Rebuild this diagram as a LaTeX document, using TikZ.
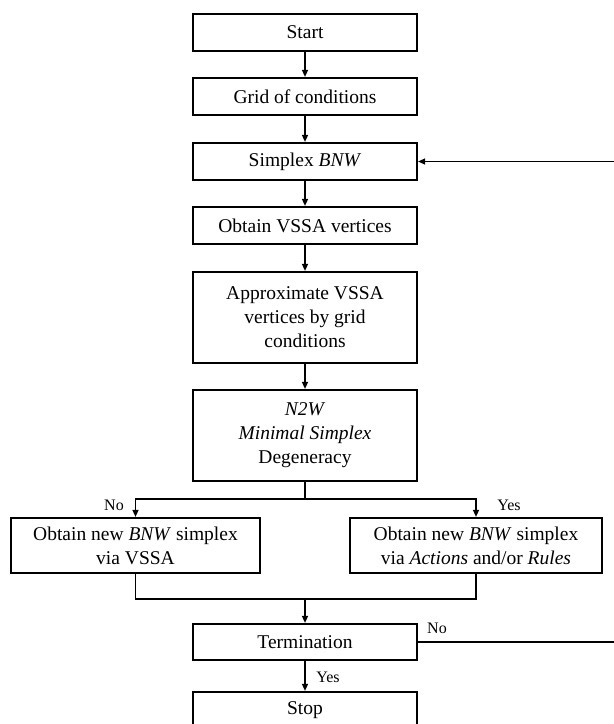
\documentclass[tikz,border=0pt]{standalone}
\usepackage{fontspec}
\setmainfont{Liberation Serif}
\usetikzlibrary{arrows.meta}
\begin{document}
\begin{tikzpicture}[x=1pt,y=-1pt,
  box/.style={draw,line width=2.2pt,inner sep=0pt,align=center,minimum width=224pt,minimum height=37pt,font=\fontsize{19.5}{24}\selectfont},
  conn/.style={line width=1.4pt},
  arr/.style={conn,-{Triangle[length=7pt,width=6pt]}},
  lab/.style={font=\fontsize{16}{19}\selectfont,inner sep=0pt}]
\path[use as bounding box,clip] (0,0) rectangle (614,724);
\node[box] (start) at (305,32.5) {Start};
\node[box] (grid) at (305,96.5) {Grid of conditions};
\node[box] (simplex) at (305,161.5) {Simplex \textit{BNW}};
\node[box] (vssa) at (305,225.5) {Obtain VSSA vertices};
\node[box,minimum height=91pt] (approx) at (305,317.5) {Approximate VSSA\\vertices by grid\\conditions};
\node[box,minimum height=91pt] (n2w) at (305,435.5) {\textit{N2W}\\\textit{Minimal Simplex}\\Degeneracy};
\node[box,minimum width=249pt,minimum height=55pt] (left) at (135.5,545.5) {Obtain new \textit{BNW} simplex\\via VSSA};
\node[box,minimum width=252pt,minimum height=55pt] (right) at (476,545.5) {Obtain new \textit{BNW} simplex\\via \textit{Actions} and/or \textit{Rules}};
\node[box,minimum height=36pt] (term) at (305,642) {Termination};
\node[box] (stop) at (305,710.5) {Stop};
\coordinate (edge) at (614,0);
\coordinate (split) at (305,499);
\coordinate (merge) at (305,599);
\coordinate (fbout) at (term.east -| edge);
\coordinate (fbin) at (simplex.east -| edge);
\draw[arr] (start) -- (grid);
\draw[arr] (grid) -- (simplex);
\draw[arr] (simplex) -- (vssa);
\draw[arr] (vssa) -- (approx);
\draw[arr] (approx) -- (n2w);
\draw[conn] (n2w.south) -- (split);
\draw[arr] (split) -| (left.north);
\draw[arr] (split) -| (right.north);
\draw[conn] (left.south) |- (merge);
\draw[conn] (right.south) |- (merge);
\draw[arr] (merge) -- (term.north);
\draw[arr] (term) -- (stop);
\draw[conn] (term.east) -- (fbout);
\draw[arr] (fbin) -- (simplex.east);
\node[lab] (no1) at (114,505) {No};
\node[lab] (yes1) at (509,505) {Yes};
\node[lab] (no2) at (437,628) {No};
\node[lab] (yes2) at (328,677) {Yes};
\end{tikzpicture}
\end{document}
